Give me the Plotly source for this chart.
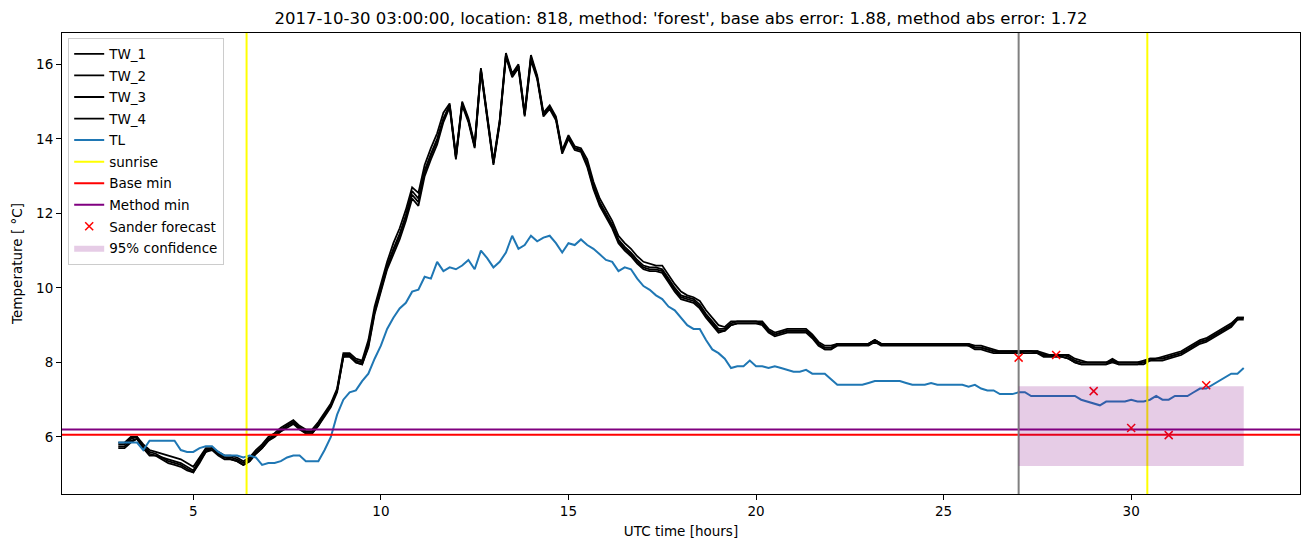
import plotly.graph_objects as go

# ---------------- data ----------------
# 10-minute samples from 03:00 to 33:00 UTC hours
HOURS = [round(3 + i / 6, 4) for i in range(181)]

TW_1 = [
    5.8, 5.8, 5.95, 6.0, 5.75, 5.6,
    5.55, 5.45, 5.4, 5.35, 5.3, 5.2,
    5.1, 5.4, 5.65, 5.7, 5.55, 5.45,
    5.45, 5.4, 5.3, 5.4, 5.6, 5.75,
    5.95, 6.05, 6.2, 6.3, 6.4, 6.25,
    6.15, 6.15, 6.35, 6.6, 6.85, 7.25,
    8.2, 8.2, 8.05, 8.0, 8.5, 9.4,
    10.0, 10.6, 11.05, 11.45, 11.95, 12.6,
    12.4, 13.15, 13.6, 14.0, 14.55, 14.9,
    13.5, 14.95, 14.5, 13.8, 15.85, 14.6,
    13.35, 14.45, 16.25, 15.7, 15.95, 14.65,
    16.2, 15.65, 14.65, 14.85, 14.55, 13.65,
    14.05, 13.75, 13.7, 13.35, 12.75, 12.3,
    12.0, 11.7, 11.3, 11.1, 10.95, 10.75,
    10.6, 10.55, 10.55, 10.5, 10.25, 10.0,
    9.8, 9.75, 9.7, 9.55, 9.3, 9.1,
    8.9, 8.9, 9.05, 9.1, 9.1, 9.1,
    9.1, 9.05, 8.85, 8.75, 8.8, 8.85,
    8.85, 8.85, 8.85, 8.7, 8.5, 8.4,
    8.4, 8.5, 8.5, 8.5, 8.5, 8.5,
    8.5, 8.6, 8.5, 8.5, 8.5, 8.5,
    8.5, 8.5, 8.5, 8.5, 8.5, 8.5,
    8.5, 8.5, 8.5, 8.5, 8.5, 8.4,
    8.4, 8.35, 8.3, 8.3, 8.3, 8.3,
    8.3, 8.3, 8.3, 8.3, 8.2, 8.2,
    8.2, 8.2, 8.15, 8.05, 8.0, 8.0,
    8.0, 8.0, 8.0, 8.05, 8.0, 8.0,
    8.0, 8.0, 8.0, 8.1, 8.1, 8.1,
    8.15, 8.2, 8.25, 8.35, 8.45, 8.55,
    8.6, 8.7, 8.8, 8.9, 9.0, 9.2,
    9.2,
]

TW_2 = [
    5.75, 5.75, 5.9, 5.95, 5.7, 5.55,
    5.5, 5.4, 5.3, 5.25, 5.2, 5.1,
    5.05, 5.35, 5.6, 5.65, 5.5, 5.4,
    5.4, 5.35, 5.25, 5.35, 5.55, 5.7,
    5.9, 6.0, 6.15, 6.25, 6.35, 6.2,
    6.1, 6.1, 6.3, 6.55, 6.8, 7.2,
    8.15, 8.15, 8.0, 7.95, 8.4, 9.3,
    9.9, 10.5, 10.9, 11.3, 11.8, 12.4,
    12.2, 13.0, 13.45, 13.85, 14.45, 14.85,
    13.45, 14.9, 14.45, 13.75, 15.8, 14.55,
    13.3, 14.4, 16.2, 15.65, 15.9, 14.6,
    16.1, 15.6, 14.6, 14.8, 14.5, 13.6,
    14.0, 13.7, 13.65, 13.25, 12.65, 12.2,
    11.9, 11.6, 11.2, 11.0, 10.85, 10.65,
    10.5, 10.45, 10.45, 10.4, 10.15, 9.9,
    9.7, 9.65, 9.6, 9.45, 9.2, 9.0,
    8.8, 8.85, 9.0, 9.05, 9.05, 9.05,
    9.05, 9.0, 8.8, 8.7, 8.75, 8.8,
    8.8, 8.8, 8.8, 8.65, 8.45, 8.35,
    8.35, 8.45, 8.45, 8.45, 8.45, 8.45,
    8.45, 8.55, 8.45, 8.45, 8.45, 8.45,
    8.45, 8.45, 8.45, 8.45, 8.45, 8.45,
    8.45, 8.45, 8.45, 8.45, 8.45, 8.35,
    8.35, 8.3, 8.25, 8.25, 8.25, 8.25,
    8.25, 8.25, 8.25, 8.25, 8.15, 8.15,
    8.15, 8.15, 8.1, 8.0, 7.95, 7.95,
    7.95, 7.95, 7.95, 8.0, 7.95, 7.95,
    7.95, 7.95, 7.95, 8.05, 8.05, 8.05,
    8.1, 8.15, 8.2, 8.3, 8.4, 8.5,
    8.55, 8.65, 8.75, 8.85, 8.95, 9.15,
    9.15,
]

TW_3 = [
    5.85, 5.85, 6.0, 6.0, 5.8, 5.65,
    5.6, 5.55, 5.5, 5.45, 5.4, 5.3,
    5.2, 5.45, 5.7, 5.7, 5.6, 5.5,
    5.5, 5.45, 5.35, 5.45, 5.65, 5.8,
    6.0, 6.1, 6.25, 6.35, 6.45, 6.3,
    6.2, 6.2, 6.4, 6.65, 6.9, 7.3,
    8.25, 8.25, 8.1, 8.05, 8.6, 9.5,
    10.1, 10.7, 11.2, 11.6, 12.1, 12.7,
    12.55, 13.3, 13.75, 14.15, 14.7, 14.95,
    13.55, 15.0, 14.55, 13.85, 15.9, 14.65,
    13.4, 14.5, 16.3, 15.75, 16.0, 14.7,
    16.25, 15.7, 14.7, 14.9, 14.6, 13.7,
    14.1, 13.8, 13.75, 13.45, 12.85, 12.4,
    12.1, 11.8, 11.4, 11.2, 11.05, 10.85,
    10.7, 10.65, 10.6, 10.6, 10.35, 10.1,
    9.9, 9.8, 9.75, 9.65, 9.4, 9.2,
    9.0, 8.95, 9.1, 9.1, 9.1, 9.1,
    9.1, 9.1, 8.9, 8.8, 8.85, 8.9,
    8.9, 8.9, 8.9, 8.75, 8.55, 8.45,
    8.45, 8.5, 8.5, 8.5, 8.5, 8.5,
    8.5, 8.6, 8.5, 8.5, 8.5, 8.5,
    8.5, 8.5, 8.5, 8.5, 8.5, 8.5,
    8.5, 8.5, 8.5, 8.5, 8.5, 8.45,
    8.45, 8.4, 8.35, 8.3, 8.3, 8.3,
    8.3, 8.3, 8.3, 8.3, 8.25, 8.2,
    8.2, 8.2, 8.2, 8.1, 8.05, 8.0,
    8.0, 8.0, 8.0, 8.1, 8.0, 8.0,
    8.0, 8.0, 8.05, 8.1, 8.1, 8.15,
    8.2, 8.25, 8.3, 8.4, 8.5, 8.6,
    8.65, 8.75, 8.85, 8.95, 9.05, 9.2,
    9.2,
]

TW_4 = [
    5.7, 5.7, 5.85, 5.95, 5.7, 5.5,
    5.5, 5.45, 5.35, 5.3, 5.25, 5.15,
    5.05, 5.3, 5.6, 5.7, 5.55, 5.45,
    5.4, 5.35, 5.25, 5.35, 5.55, 5.7,
    5.9, 6.05, 6.15, 6.3, 6.4, 6.25,
    6.1, 6.1, 6.3, 6.6, 6.85, 7.25,
    8.15, 8.2, 8.0, 7.95, 8.45, 9.35,
    9.95, 10.55, 11.0, 11.4, 11.9, 12.5,
    12.3, 13.1, 13.55, 13.95, 14.5, 14.9,
    13.5, 14.95, 14.5, 13.8, 15.85, 14.6,
    13.35, 14.45, 16.25, 15.7, 15.95, 14.65,
    16.15, 15.65, 14.65, 14.85, 14.55, 13.65,
    14.05, 13.75, 13.7, 13.3, 12.7, 12.25,
    11.95, 11.65, 11.25, 11.05, 10.9, 10.7,
    10.55, 10.5, 10.5, 10.45, 10.2, 9.95,
    9.75, 9.7, 9.65, 9.5, 9.25, 9.05,
    8.85, 8.85, 9.0, 9.05, 9.05, 9.05,
    9.05, 9.05, 8.85, 8.75, 8.8, 8.85,
    8.85, 8.85, 8.85, 8.7, 8.5, 8.35,
    8.35, 8.5, 8.5, 8.5, 8.5, 8.5,
    8.5, 8.6, 8.5, 8.5, 8.5, 8.5,
    8.5, 8.5, 8.5, 8.5, 8.5, 8.5,
    8.5, 8.5, 8.5, 8.5, 8.45, 8.4,
    8.4, 8.35, 8.3, 8.25, 8.25, 8.25,
    8.25, 8.3, 8.3, 8.25, 8.2, 8.2,
    8.2, 8.15, 8.1, 8.0, 7.95, 7.95,
    7.95, 7.95, 7.95, 8.05, 7.95, 7.95,
    7.95, 7.95, 8.0, 8.05, 8.1, 8.1,
    8.15, 8.2, 8.25, 8.35, 8.45, 8.55,
    8.6, 8.7, 8.8, 8.9, 9.0, 9.15,
    9.2,
]

TL = [
    5.85, 5.85, 5.85, 5.85, 5.65, 5.9,
    5.9, 5.9, 5.9, 5.9, 5.65, 5.6,
    5.6, 5.7, 5.75, 5.75, 5.6, 5.5,
    5.5, 5.5, 5.45, 5.5, 5.45, 5.25,
    5.3, 5.3, 5.35, 5.45, 5.5, 5.5,
    5.35, 5.35, 5.35, 5.65, 6.0, 6.6,
    7.0, 7.2, 7.25, 7.5, 7.7, 8.1,
    8.45, 8.9, 9.2, 9.45, 9.6, 9.9,
    9.95, 10.3, 10.25, 10.7, 10.45, 10.55,
    10.5, 10.6, 10.75, 10.5, 11.0, 10.8,
    10.55, 10.7, 10.95, 11.4, 11.05, 11.15,
    11.4, 11.25, 11.35, 11.4, 11.2, 10.95,
    11.2, 11.15, 11.3, 11.15, 11.05, 10.9,
    10.75, 10.7, 10.45, 10.55, 10.5, 10.25,
    10.05, 9.95, 9.8, 9.7, 9.5, 9.4,
    9.2, 9.0, 8.9, 8.9, 8.6, 8.35,
    8.25, 8.1, 7.85, 7.9, 7.9, 8.05,
    7.9, 7.9, 7.85, 7.9, 7.85, 7.8,
    7.75, 7.75, 7.8, 7.7, 7.7, 7.7,
    7.55, 7.4, 7.4, 7.4, 7.4, 7.4,
    7.45, 7.5, 7.5, 7.5, 7.5, 7.5,
    7.45, 7.4, 7.4, 7.4, 7.45, 7.4,
    7.4, 7.4, 7.4, 7.4, 7.35, 7.4,
    7.3, 7.25, 7.25, 7.15, 7.15, 7.15,
    7.2, 7.2, 7.1, 7.1, 7.1, 7.1,
    7.1, 7.1, 7.1, 7.1, 7.0, 6.95,
    6.9, 6.85, 6.95, 6.95, 6.95, 6.95,
    7.0, 6.95, 6.95, 7.0, 7.1, 7.0,
    7.0, 7.1, 7.1, 7.1, 7.2, 7.3,
    7.3, 7.4, 7.5, 7.6, 7.7, 7.7,
    7.85,
]

SUNRISE_HOURS = [6.42, 30.43]
FORECAST_START = 27.0
BASE_MIN = 6.06
METHOD_MIN = 6.2

FORECAST_HOURS = [27, 28, 29, 30, 31, 32]
FORECAST_VALUES = [8.13, 8.2, 7.23, 6.24, 6.05, 7.39]

CONF_HOURS = [27.0, 33.0]
CONF_LOW = 5.22
CONF_HIGH = 7.36

X_RANGE = [1.5, 34.5]
Y_RANGE = [4.47, 16.84]
X_TICKS = [5, 10, 15, 20, 25, 30]
Y_TICKS = [6, 8, 10, 12, 14, 16]

TITLE = ("2017-10-30 03:00:00, location: 818, method: 'forest', "
         "base abs error: 1.88, method abs error: 1.72")

FONT = "DejaVu Sans"

# ---------------- figure ----------------
fig = go.Figure()

for name, series in [("TW_1", TW_1), ("TW_2", TW_2), ("TW_3", TW_3), ("TW_4", TW_4)]:
    fig.add_trace(go.Scatter(x=HOURS, y=series, mode="lines", name=name,
                             legendgroup=name,
                             line=dict(color="black", width=1.8)))

fig.add_trace(go.Scatter(x=HOURS, y=TL, mode="lines", name="TL", legendgroup="TL",
                         line=dict(color="#1f77b4", width=2)))

for i, h in enumerate(SUNRISE_HOURS):
    fig.add_trace(go.Scatter(x=[h, h], y=Y_RANGE, mode="lines", name="sunrise",
                             legendgroup="sunrise", showlegend=(i == 0),
                             line=dict(color="yellow", width=2)))

fig.add_trace(go.Scatter(x=X_RANGE, y=[BASE_MIN, BASE_MIN], mode="lines",
                         name="Base min", legendgroup="base",
                         line=dict(color="red", width=2)))
fig.add_trace(go.Scatter(x=X_RANGE, y=[METHOD_MIN, METHOD_MIN], mode="lines",
                         name="Method min", legendgroup="method",
                         line=dict(color="purple", width=2)))

fig.add_trace(go.Scatter(x=[FORECAST_START, FORECAST_START], y=Y_RANGE, mode="lines",
                         showlegend=False, line=dict(color="gray", width=2)))

fig.add_trace(go.Scatter(x=FORECAST_HOURS, y=FORECAST_VALUES, mode="markers",
                         name="Sander forecast", legendgroup="forecast",
                         marker=dict(symbol="x-thin", size=8, color="red",
                                     line=dict(color="red", width=1.5))))

fig.add_trace(go.Scatter(
    x=[CONF_HOURS[0], CONF_HOURS[1], CONF_HOURS[1], CONF_HOURS[0], CONF_HOURS[0]],
    y=[CONF_LOW, CONF_LOW, CONF_HIGH, CONF_HIGH, CONF_LOW],
    mode="lines", fill="toself", fillcolor="rgba(128,0,128,0.2)",
    line=dict(width=0, color="rgba(128,0,128,0)"),
    name="95% confidence", legendgroup="conf"))

axis_common = dict(showline=True, linecolor="black", linewidth=1, mirror=True,
                   ticks="outside", ticklen=5, tickwidth=1, tickcolor="black",
                   showgrid=False, zeroline=False,
                   tickfont=dict(family=FONT, size=13.5, color="black"))

fig.update_layout(
    width=1311, height=547,
    margin=dict(l=62, r=11, t=33, b=53),
    paper_bgcolor="white", plot_bgcolor="white",
    font=dict(family=FONT, size=13.5, color="black"),
    title=dict(text=TITLE, x=0.5, xref="paper", xanchor="center",
               y=1 - 18 / 547, yref="container", yanchor="middle",
               font=dict(family=FONT, size=16.5, color="black")),
    xaxis=dict(range=X_RANGE, tickvals=X_TICKS,
               title=dict(text="UTC time [hours]", standoff=8,
                          font=dict(family=FONT, size=13.5)),
               **axis_common),
    yaxis=dict(range=Y_RANGE, tickvals=Y_TICKS,
               title=dict(text="Temperature [ °C]", standoff=10,
                          font=dict(family=FONT, size=13.5)),
               **axis_common),
    legend=dict(x=0.005, y=0.99, xanchor="left", yanchor="top",
                bgcolor="rgba(255,255,255,0.8)", bordercolor="#cccccc",
                borderwidth=1, traceorder="grouped", tracegroupgap=1,
                font=dict(family=FONT, size=13.5, color="black")),
    showlegend=True,
)

fig.write_html("out.html")
